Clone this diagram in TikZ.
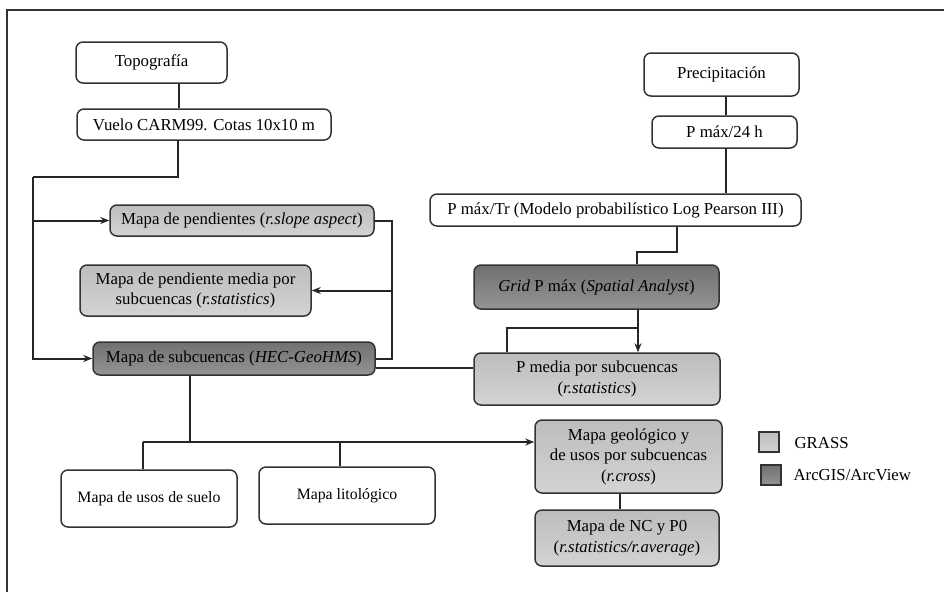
\documentclass[tikz,border=0pt]{standalone}
\usepackage{fontspec}
\setmainfont{Liberation Serif}
\usetikzlibrary{arrows.meta}

\begin{document}
\begin{tikzpicture}[x=1pt, y=-1pt, >={Stealth[length=9pt,width=7pt]},
    every node/.style={font=\fontsize{16.8}{20.5}\selectfont},
    box/.style={draw=black!80, rounded corners=7pt, line width=1.5pt, align=center, inner sep=2pt},
    grassbox/.style={box, top color=black!26, bottom color=black!17},
    arcbox/.style={box, top color=black!56, bottom color=black!42},
    link/.style={line width=2pt, draw=black!85}]
      \useasboundingbox (0, 0) rectangle (944, 592);
      \draw[line width=2pt, black!80] (7, 592) -- (7, 10) -- (944, 10);

      % left branch: topography
      \node[box, minimum width=151pt, minimum height=41pt] (T) at (151.5, 62.5) {Topografía};
      \node[box, minimum width=254pt, minimum height=31pt] (V) at (204, 124.5) {Vuelo CARM99. Cotas 10x10 m};
      \node[grassbox, minimum width=264pt, minimum height=31pt] (PE) at (242, 220.5) {Mapa de pendientes (\textit{r.slope aspect})};
      \node[grassbox, minimum width=231pt, minimum height=51pt] (PM) at (195.5, 290.5) {Mapa de pendiente media por\\subcuencas (\textit{r.statistics})};
      \node[arcbox, minimum width=282pt, minimum height=33pt] (SC) at (234, 358.5) {Mapa de subcuencas (\textit{HEC-GeoHMS})};
      \node[box, minimum width=176pt, minimum height=57pt, font=\fontsize{15.8}{19}\selectfont] (US) at (149, 498.5) {Mapa de usos de suelo};
      \node[box, minimum width=176pt, minimum height=57pt, font=\fontsize{15.8}{19}\selectfont] (LI) at (347, 495.5) {Mapa litológico};

      % right branch: precipitation
      \node[box, minimum width=155pt, minimum height=43pt] (PR) at (721.5, 74.5) {Precipitación};
      \node[box, minimum width=145pt, minimum height=32pt] (P24) at (724.5, 132) {P máx/24 h};
      \node[box, minimum width=371pt, minimum height=32pt] (PTR) at (615.5, 210) {P máx/Tr (Modelo probabilístico Log Pearson III)};
      \node[arcbox, minimum width=245pt, minimum height=44pt] (GR) at (596.5, 287) {\textit{Grid} P máx (\textit{Spatial Analyst})};
      \node[grassbox, minimum width=246pt, minimum height=52pt] (PS) at (597, 379) {P media por subcuencas\\(\textit{r.statistics})};
      \node[grassbox, minimum width=187pt, minimum height=73pt] (GE) at (628.5, 456.5) {Mapa geológico y\\de usos por subcuencas\\(\textit{r.cross})};
      \node[grassbox, minimum width=184pt, minimum height=56pt] (NC) at (627, 538) {Mapa de NC y P0\\(\textit{r.statistics/r.average})};

      % legend
      \node[grassbox, rounded corners=0pt, minimum width=20pt, minimum height=20pt] (L1) at (769, 442) {};
      \node[arcbox, rounded corners=0pt, minimum width=20pt, minimum height=20pt] (L2) at (771, 475) {};
      \node[anchor=west] (L1t) at (791, 443) {GRASS};
      \node[anchor=west] (L2t) at (790, 475) {ArcGIS/ArcView};

      % bends of the connectors
      \coordinate (c1) at (179, 0);
      \coordinate (k1) at (178, 177);
      \coordinate (k2) at (33, 177);
      \coordinate (k3) at (392, 290.5);
      \coordinate (k4) at (0, 368);
      \coordinate (k5) at (190, 442);
      \coordinate (k6) at (143, 442);
      \coordinate (k7) at (340, 442);
      \coordinate (k8) at (620, 0);
      \coordinate (k9) at (726, 0);
      \coordinate (k10) at (677, 252);
      \coordinate (k11) at (637, 0);
      \coordinate (k12) at (638, 328);
      \coordinate (k13) at (507, 0);

      \draw[link] (T.south -| c1) -- (V.north -| c1);
      \draw[link] (V.south -| k1) -- (k1) -- (k2);
      \draw[link, ->] (k2) |- (SC.west);
      \draw[link, ->] (k2 |- PE.west) -- (PE.west);
      \draw[link] (PE.east) -| (k3) |- (SC.east);
      \draw[link, ->] (k3) -- (PM.east);
      \draw[link] (SC.east |- k4) -- (PS.west |- k4);
      \draw[link] (SC.south -| k5) -- (k5);
      \draw[link, ->] (k6) -- (GE.west |- k6);
      \draw[link] (k6) -- (US.north -| k6);
      \draw[link] (k7) -- (LI.north -| k7);
      \draw[link] (GE.south -| k8) -- (NC.north -| k8);

      \draw[link] (PR.south -| k9) -- (P24.north -| k9);
      \draw[link] (P24.south -| k9) -- (PTR.north -| k9);
      \draw[link] (PTR.south -| k10) -- (k10) -| (GR.north -| k11);
      \draw[link, ->] (GR.south -| k12) -- (PS.north -| k12);
      \draw[link] (k12) -| (PS.north -| k13);
    \end{tikzpicture}
\end{document}
